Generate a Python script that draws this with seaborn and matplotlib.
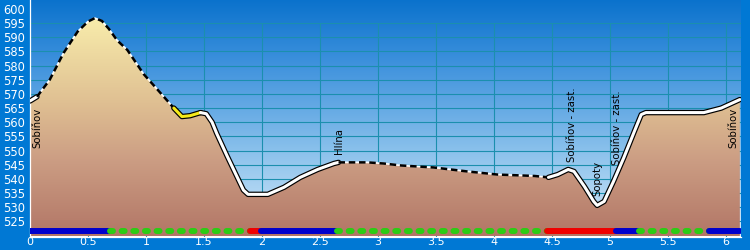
import numpy as np
import pandas as pd
import matplotlib
matplotlib.use('Agg')
import matplotlib.pyplot as plt
import seaborn as sns
from matplotlib.colors import LinearSegmentedColormap

# ---- data ----
dist = [0.00, 0.06, 0.17, 0.29, 0.41, 0.50, 0.56, 0.62, 0.68, 0.75, 0.84, 0.98, 1.10,
        1.24, 1.31, 1.38, 1.47, 1.52, 1.57, 1.61, 1.70, 1.77, 1.84, 1.88, 2.05,
        2.19, 2.33, 2.48, 2.62, 2.66, 2.91, 3.05, 3.20, 3.48, 3.77, 4.03, 4.35,
        4.47, 4.55, 4.64, 4.69, 4.78, 4.86, 4.89, 4.95, 5.03, 5.12, 5.21, 5.27,
        5.31, 5.81, 5.96, 6.12]
elev = [567.5, 569.0, 575.0, 584.5, 592.0, 595.6, 596.8, 595.8, 593.0, 589.0, 585.5, 577.0, 571.5,
        565.0, 562.0, 562.3, 563.4, 563.0, 560.0, 556.0, 548.0, 542.0, 536.0, 534.5, 534.5,
        537.0, 540.5, 543.3, 545.4, 545.8, 545.8, 545.4, 544.7, 544.0, 542.6, 541.5, 541.0,
        540.5, 541.5, 543.3, 542.6, 537.3, 532.0, 530.6, 532.0, 539.0, 547.5, 556.7, 562.7,
        563.4, 563.4, 565.0, 568.0]

seg_bounds = [0.00, 0.06, 1.24, 1.47, 2.66, 4.47, 6.12]
seg_kinds = ['white', 'dashed', 'yellow', 'white', 'dashed', 'white']

bar_start = [0.00, 0.69, 1.90, 1.99, 2.65, 4.46, 5.05, 5.25, 5.85]
bar_end = [0.69, 1.90, 1.99, 2.65, 4.46, 5.05, 5.25, 5.85, 6.12]
bar_kind = ['blue', 'green', 'red', 'blue', 'green', 'red', 'blue', 'green', 'blue']

label_names = ['Sobíňov', 'Hlína', 'Sobíňov - zast.', 'Sopoty', 'Sobíňov - zast.', 'Sobíňov']
label_dist = [0.065, 2.66, 4.67, 4.89, 5.06, 6.06]
label_elev = [551.0, 548.6, 545.8, 533.8, 545.0, 551.0]

x_ticks = [0, 0.5, 1, 1.5, 2, 2.5, 3, 3.5, 4, 4.5, 5, 5.5, 6]
x_labels = ['0', '0.5', '1', '1.5', '2', '2.5', '3', '3.5', '4', '4.5', '5', '5.5', '6']
y_ticks = list(range(525, 601, 5))
y_labels = [str(v) for v in y_ticks]

# ---- styling ----
sns.set_style('white')
plt.rcParams['font.family'] = ['DejaVu Sans']

FIG_BG = '#0078d4'
GRID = '#1b8fae'
XMIN, XMAX = 0.0, 6.13
YMIN, YMAX = 519.6, 603.2
BAR_Y = 521.7

fig = plt.figure(figsize=(7.5, 2.5), dpi=100, facecolor=FIG_BG)
ax = fig.add_axes([30 / 750, 13.5 / 250, 711 / 750, 236.5 / 250])
ax.set_xlim(XMIN, XMAX)
ax.set_ylim(YMIN, YMAX)

# sky gradient
sky = LinearSegmentedColormap.from_list(
    'sky', [(0.0, '#d6eafa'), (0.35, '#8cc2ec'), (0.75, '#3a8fdc'), (1.0, '#0a72cc')])
grad = np.linspace(0, 1, 256).reshape(-1, 1)
ax.imshow(grad, extent=[XMIN, XMAX, YMIN, YMAX], aspect='auto', cmap=sky,
          origin='lower', zorder=0)

# grid
ax.hlines(y_ticks[:-1], XMIN, XMAX, color=GRID, lw=0.8, zorder=1)
ax.vlines(x_ticks[1:], YMIN, 595, color=GRID, lw=0.8, zorder=1)

# terrain fill with vertical gradient
poly = ax.fill_between(dist, elev, YMIN, facecolor='none', edgecolor='none', zorder=2)
terrain = LinearSegmentedColormap.from_list(
    'terrain', [(0.0, '#b27666'), (0.35, '#cc9e84'), (0.6, '#dfbf92'), (1.0, '#f9eeac')])
im = ax.imshow(grad, extent=[XMIN, XMAX, YMIN, 597.5], aspect='auto', cmap=terrain,
               origin='lower', zorder=2)
im.set_clip_path(poly.get_paths()[0], transform=ax.transData)

# profile line segments
df = pd.DataFrame({'dist': dist, 'elev': elev})
for i, kind in enumerate(seg_kinds):
    lo, hi = seg_bounds[i], seg_bounds[i + 1]
    part = df[(df['dist'] >= lo - 1e-9) & (df['dist'] <= hi + 1e-9)]
    if kind in ('white', 'yellow'):
        sns.lineplot(data=part, x='dist', y='elev', sort=False, ax=ax, color='black',
                     lw=3.9, solid_capstyle='round', solid_joinstyle='round', zorder=4)
        sns.lineplot(data=part, x='dist', y='elev', sort=False, ax=ax,
                     color='white' if kind == 'white' else '#f5ea1a',
                     lw=2.2, solid_capstyle='round', solid_joinstyle='round', zorder=5)
    else:
        sns.lineplot(data=part, x='dist', y='elev', sort=False, ax=ax, color='white',
                     lw=1.2, zorder=4)
        sns.lineplot(data=part, x='dist', y='elev', sort=False, ax=ax, color='black',
                     lw=1.8, linestyle=(0, (2.6, 1.5)), zorder=5)

# surface bar along the bottom
bar_colors = {'blue': '#0000cc', 'red': '#f00000', 'green': '#2ccc14'}
for s, e, k in zip(bar_start, bar_end, bar_kind):
    bdf = pd.DataFrame({'x': [s, e], 'y': [BAR_Y, BAR_Y]})
    if k == 'green':
        sns.lineplot(data=bdf, x='x', y='y', ax=ax, color=bar_colors[k], lw=4.3,
                     linestyle=(0, (0.5, 1.45)), dash_capstyle='round', zorder=6)
    else:
        sns.lineplot(data=bdf, x='x', y='y', ax=ax, color=bar_colors[k], lw=4.3,
                     solid_capstyle='round', zorder=6)

# place names
for name, d, e in zip(label_names, label_dist, label_elev):
    ax.text(d, e, name, rotation=90, ha='center', va='bottom', fontsize=7.3,
            color='black', zorder=7)

# axes
ax.set_xticks(x_ticks)
ax.set_xticklabels(x_labels)
ax.set_yticks(y_ticks)
ax.set_yticklabels(y_labels)
ax.set_xlabel('')
ax.set_ylabel('')
ax.tick_params(axis='y', colors='white', labelsize=8.3, length=3, width=0.8,
               direction='out', pad=0.5)
ax.tick_params(axis='x', colors='white', labelsize=8.0, length=0, width=0.8,
               pad=0.5)
for side in ('top', 'right'):
    ax.spines[side].set_visible(False)
for side in ('left', 'bottom'):
    ax.spines[side].set_color('white')
    ax.spines[side].set_linewidth(0.9)

fig.savefig('out.png', dpi=100, facecolor=FIG_BG)
